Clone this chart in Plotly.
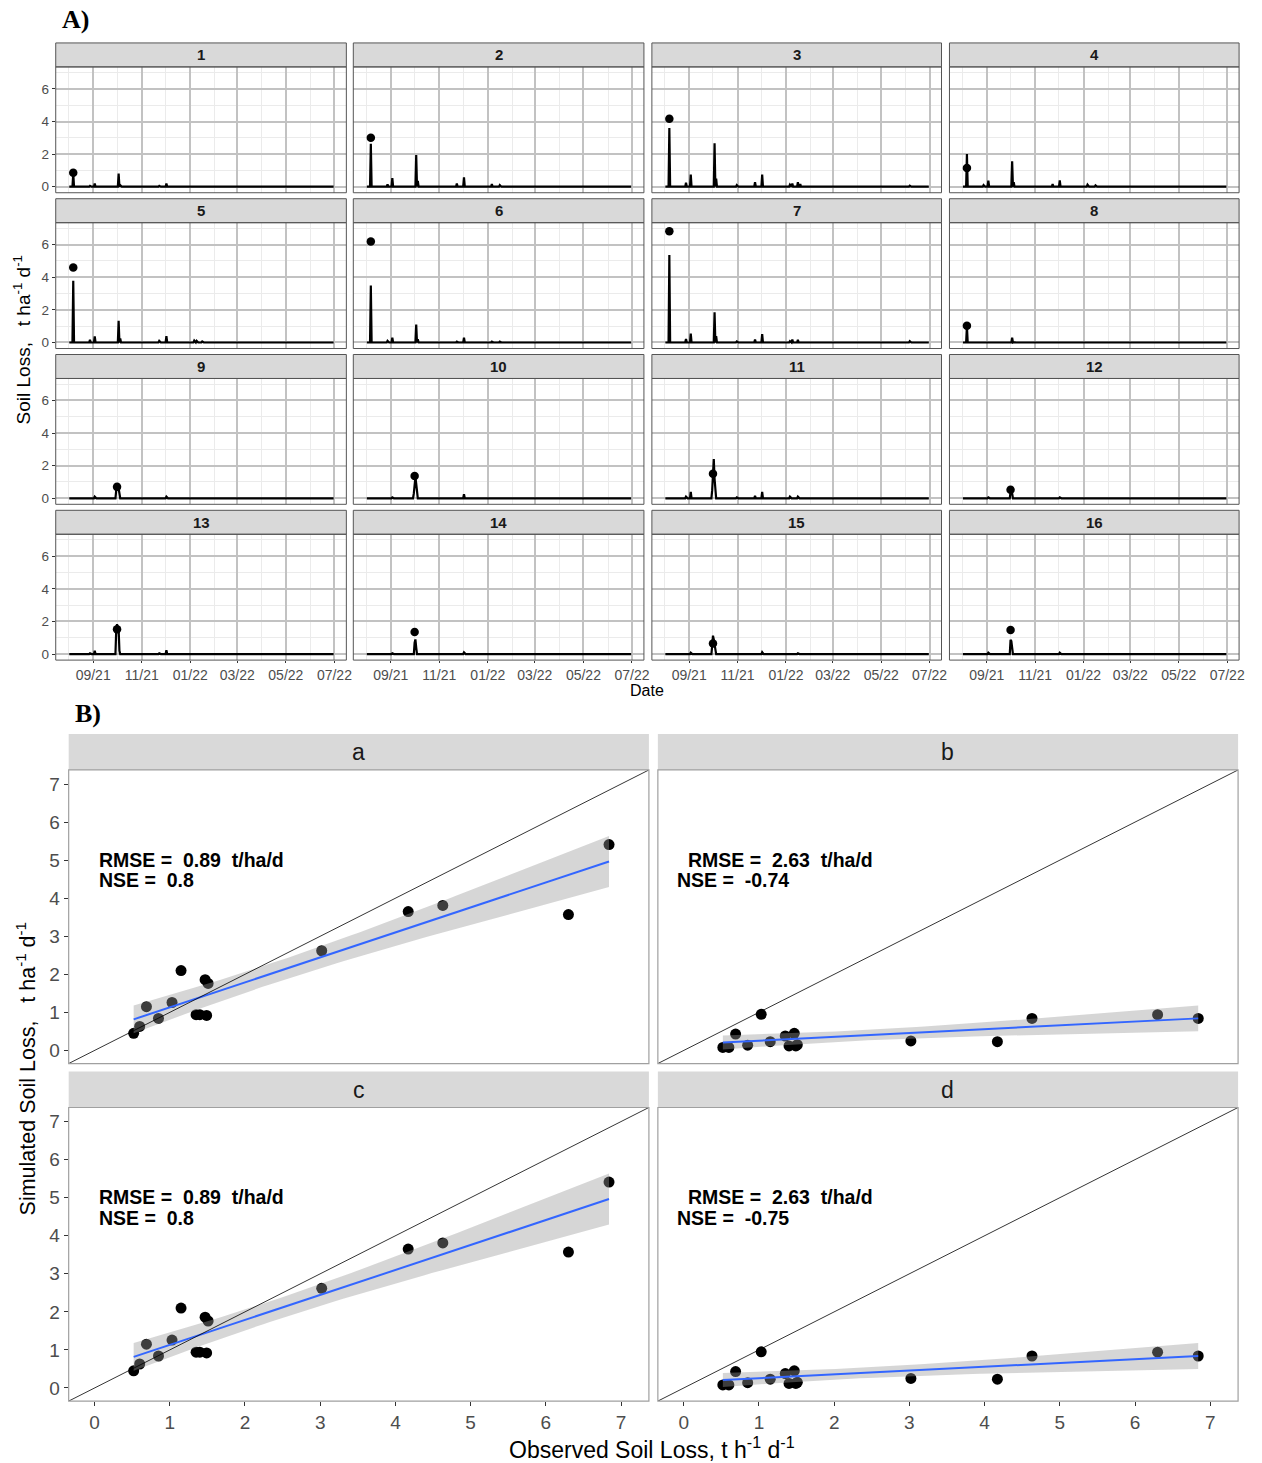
import numpy as np
import pandas as pd
import plotly.graph_objects as go

W, H = 1262, 1463

# ---------------- Part A data (daily simulated soil loss, t ha-1 d-1) ----------------
series_start = "2021-08-02"
series_end = "2022-06-30"
event_dates = ["2021-08-06", "2021-08-07", "2021-08-28", "2021-09-03", "2021-09-29",
               "2021-09-30", "2021-10-01", "2021-10-02", "2021-10-03", "2021-10-04",
               "2021-10-05", "2021-10-31", "2021-11-23", "2021-12-02", "2022-01-06",
               "2022-01-09", "2022-01-16", "2022-01-19", "2022-06-06"]
sim_p01 = [0, 0.80, 0.05, 0.20, 0, 0, 0, 0, 0.80, 0, 0.10, 0, 0.05, 0.20, 0, 0, 0.02, 0, 0]
sim_p02 = [0, 2.63, 0.15, 0.53, 0, 0, 0, 0, 1.95, 0, 0.35, 0.03, 0.20, 0.57, 0.16, 0, 0.10, 0, 0.02]
sim_p03 = [0, 3.60, 0.25, 0.74, 0, 0, 0, 0, 2.67, 0, 0.50, 0.10, 0.27, 0.74, 0.12, 0.20, 0.27, 0.16, 0.06]
sim_p04 = [0, 2.00, 0.10, 0.37, 0, 0, 0, 0, 1.56, 0, 0.27, 0, 0.16, 0.39, 0.12, 0, 0.08, 0, 0]
sim_p05 = [0, 3.78, 0.16, 0.37, 0, 0, 0, 0, 1.33, 0, 0.25, 0, 0.10, 0.39, 0.12, 0.10, 0.06, 0, 0]
sim_p06 = [0, 3.50, 0.10, 0.30, 0, 0, 0, 0, 1.10, 0, 0.20, 0, 0.05, 0.30, 0.05, 0, 0.05, 0, 0]
sim_p07 = [0, 5.37, 0.22, 0.55, 0, 0, 0, 0, 1.86, 0, 0.39, 0.06, 0.18, 0.51, 0.08, 0.18, 0.16, 0, 0.08]
sim_p08 = [0, 1.00, 0, 0.02, 0, 0, 0, 0, 0.30, 0, 0.02, 0, 0, 0.02, 0, 0, 0, 0, 0]
sim_p09 = [0, 0, 0, 0.10, 0, 0.50, 0.70, 0.90, 0.60, 0.20, 0, 0, 0, 0.10, 0, 0, 0.02, 0, 0]
sim_p10 = [0, 0, 0, 0.05, 0, 0.30, 1.20, 1.30, 0.90, 0.20, 0, 0, 0, 0.25, 0, 0, 0.03, 0, 0]
sim_p11 = [0, 0, 0.10, 0.40, 0, 0.50, 1.50, 2.40, 1.20, 0.30, 0, 0.05, 0.15, 0.40, 0.10, 0, 0.10, 0, 0]
sim_p12 = [0, 0, 0, 0.05, 0, 0, 0.40, 0.50, 0.30, 0, 0, 0, 0, 0.05, 0, 0, 0, 0, 0]
sim_p13 = [0, 0, 0.05, 0.20, 0, 1.50, 1.83, 1.60, 1.50, 0.20, 0, 0, 0.05, 0.24, 0.02, 0.03, 0, 0, 0]
sim_p14 = [0, 0, 0, 0.05, 0, 0, 0.70, 0.90, 0.40, 0, 0, 0, 0, 0.10, 0, 0, 0, 0, 0]
sim_p15 = [0, 0, 0, 0.08, 0, 0.50, 1.13, 0.90, 0.60, 0.15, 0, 0, 0.02, 0.12, 0, 0, 0.05, 0, 0]
sim_p16 = [0, 0, 0, 0.08, 0, 0, 0.87, 0.80, 0.40, 0, 0, 0, 0.03, 0.08, 0, 0, 0.03, 0, 0]
sim_panels_A = [sim_p01, sim_p02, sim_p03, sim_p04, sim_p05, sim_p06, sim_p07, sim_p08,
                sim_p09, sim_p10, sim_p11, sim_p12, sim_p13, sim_p14, sim_p15, sim_p16]
obs_dates_A = ["2021-08-07"] * 8 + ["2021-10-01"] * 8
obs_values_A = [0.85, 3.00, 4.17, 1.15, 4.60, 6.20, 6.82, 1.03,
                0.70, 1.37, 1.50, 0.52, 1.52, 1.35, 0.65, 1.47]
panel_labels_A = [str(i) for i in range(1, 17)]
x_range_A = ["2021-07-16", "2022-07-16"]

# ---------------- Part B data (observed vs simulated) ----------------
obs_B = [0.52, 0.60, 0.69, 0.85, 1.03, 1.15, 1.35, 1.40, 1.47, 1.49, 1.51, 3.02, 4.17, 4.63, 6.30, 6.84]
sim_B_a = [0.45, 0.63, 1.15, 0.84, 1.26, 2.10, 0.94, 0.94, 1.86, 0.92, 1.76, 2.62, 3.65, 3.81, 3.57, 5.41]
sim_B_b = [0.08, 0.08, 0.43, 0.14, 0.95, 0.23, 0.38, 0.12, 0.45, 0.12, 0.15, 0.25, 0.23, 0.84, 0.94, 0.84]
sim_B_c = [0.45, 0.63, 1.15, 0.84, 1.26, 2.10, 0.94, 0.94, 1.86, 0.92, 1.76, 2.62, 3.65, 3.81, 3.57, 5.41]
sim_B_d = [0.08, 0.08, 0.43, 0.14, 0.95, 0.23, 0.38, 0.12, 0.45, 0.12, 0.15, 0.25, 0.23, 0.84, 0.94, 0.84]
sim_panels_B = [sim_B_a, sim_B_b, sim_B_c, sim_B_d]
panel_labels_B = ["a", "b", "c", "d"]
rmse_B = ["0.89", "2.63", "0.89", "2.63"]
nse_B = ["0.8", "-0.74", "0.8", "-0.75"]
axis_ticks_B = [0, 1, 2, 3, 4, 5, 6, 7]

# ---------------- helpers ----------------
def fx(px):
    return px / W


def fy(py):
    return 1 - py / H


def ax_suffix(i):
    return "" if i == 1 else str(i)


SANS = "Liberation Sans, Arial, sans-serif"
SERIF = "Liberation Serif, Times New Roman, serif"

fig = go.Figure()
layout = dict(width=W, height=H, margin=dict(l=0, r=0, t=0, b=0),
              paper_bgcolor="white", plot_bgcolor="white", showlegend=False)
shapes = []
annotations = []

# ---------------- Part A ----------------
colsA = [(56, 348), (355, 647), (655, 946), (954, 1245)]
rowsA = [(67, 193), (223, 349), (379, 505), (535, 661)]
stripH_A = 24

days = pd.date_range(series_start, series_end, freq="D")
for i in range(16):
    idx = i + 1
    r, c = divmod(i, 4)
    x0, x1 = colsA[c]
    y0, y1 = rowsA[r]
    s = pd.Series(0.0, index=days)
    s.loc[pd.to_datetime(event_dates)] = sim_panels_A[i]
    xa, ya = "x" + ax_suffix(idx), "y" + ax_suffix(idx)
    fig.add_trace(go.Scatter(x=s.index, y=s.values, mode="lines",
                             line=dict(color="black", width=2.2),
                             xaxis=xa, yaxis=ya, hoverinfo="skip"))
    fig.add_trace(go.Scatter(x=[obs_dates_A[i]], y=[obs_values_A[i]], mode="markers",
                             marker=dict(color="black", size=8.5),
                             xaxis=xa, yaxis=ya, hoverinfo="skip"))
    layout["xaxis" + ax_suffix(idx)] = dict(
        domain=[fx(x0), fx(x1)], anchor=ya, type="date", range=x_range_A,
        tick0="2021-09-01", dtick="M2", tickformat="%m/%y",
        showgrid=True, gridcolor="#C2C2C2", gridwidth=1.7, zeroline=False, showline=False,
        minor=dict(dtick="M1", tick0="2021-08-01", showgrid=True, gridcolor="#EBEBEB", gridwidth=1),
        ticks="outside" if r == 3 else "", ticklen=2, tickcolor="#333333",
        showticklabels=(r == 3), tickfont=dict(family=SANS, size=14, color="#4D4D4D"))
    layout["yaxis" + ax_suffix(idx)] = dict(
        domain=[fy(y1), fy(y0)], anchor=xa, range=[-0.37, 7.35],
        tick0=0, dtick=2, showgrid=True, gridcolor="#C2C2C2", gridwidth=1.7,
        zeroline=False, showline=False,
        minor=dict(dtick=1, tick0=0, showgrid=True, gridcolor="#EBEBEB", gridwidth=1),
        ticks="outside" if c == 0 else "", ticklen=3, tickcolor="#333333",
        showticklabels=(c == 0), tickfont=dict(family=SANS, size=13.5, color="#4D4D4D"))
    # strip
    shapes.append(dict(type="rect", xref="paper", yref="paper",
                       x0=fx(x0), x1=fx(x1), y0=fy(y0), y1=fy(y0 - stripH_A),
                       fillcolor="#D9D9D9", line=dict(color="#555555", width=1), layer="above"))
    annotations.append(dict(xref="paper", yref="paper", x=fx((x0 + x1) / 2), y=fy(y0 - stripH_A / 2),
                            text="<b>" + panel_labels_A[i] + "</b>", showarrow=False,
                            font=dict(family=SANS, size=15, color="#1A1A1A"),
                            xanchor="center", yanchor="middle"))
    # border
    shapes.append(dict(type="rect", xref="paper", yref="paper",
                       x0=fx(x0), x1=fx(x1), y0=fy(y1), y1=fy(y0),
                       line=dict(color="#555555", width=1), layer="above"))

annotations.append(dict(xref="paper", yref="paper", x=fx(60), y=fy(20), text="<b>A)</b>",
                        showarrow=False, xanchor="left", yanchor="middle",
                        font=dict(family=SERIF, size=26, color="black")))
annotations.append(dict(xref="paper", yref="paper", x=fx(650), y=fy(691), text="Date",
                        showarrow=False, xanchor="center", yanchor="middle",
                        font=dict(family=SANS, size=16, color="black")))
annotations.append(dict(xref="paper", yref="paper", x=fx(22), y=fy(340),
                        text="Soil Loss,\u00a0\u00a0\u00a0t ha<sup>-1</sup> d<sup>-1</sup>",
                        textangle=-90, showarrow=False, xanchor="center", yanchor="middle",
                        font=dict(family=SANS, size=19, color="black")))

# ---------------- Part B ----------------
colsB = [(69, 652), (661, 1244)]
rowsB = [(771, 1065), (1109, 1403)]
stripH_B = 36
rngB = [-0.344, 7.37]
t_crit = 2.1448  # t(0.975, df=14)


def lm_band(x, y, n=60):
    x = np.asarray(x, float)
    y = np.asarray(y, float)
    b1, b0 = np.polyfit(x, y, 1)
    xs = np.linspace(x.min(), x.max(), n)
    yhat = b0 + b1 * xs
    resid = y - (b0 + b1 * x)
    dof = len(x) - 2
    sd = np.sqrt(np.sum(resid ** 2) / dof)
    sxx = np.sum((x - x.mean()) ** 2)
    se = sd * np.sqrt(1 / len(x) + (xs - x.mean()) ** 2 / sxx)
    return xs, yhat, yhat - t_crit * se, yhat + t_crit * se


for j in range(4):
    idx = 17 + j
    r, c = divmod(j, 2)
    x0, x1 = colsB[c]
    y0, y1 = rowsB[r]
    xa, ya = "x" + str(idx), "y" + str(idx)
    yv = sim_panels_B[j]
    fig.add_trace(go.Scatter(x=obs_B, y=yv, mode="markers",
                             marker=dict(color="black", size=11),
                             xaxis=xa, yaxis=ya, hoverinfo="skip"))
    xs, yhat, lo, hi = lm_band(obs_B, yv)
    fig.add_trace(go.Scatter(x=np.concatenate([xs, xs[::-1]]), y=np.concatenate([hi, lo[::-1]]),
                             mode="lines", fill="toself", fillcolor="rgba(153,153,153,0.4)",
                             line=dict(width=0), xaxis=xa, yaxis=ya, hoverinfo="skip"))
    fig.add_trace(go.Scatter(x=xs, y=yhat, mode="lines", line=dict(color="#3366FF", width=2),
                             xaxis=xa, yaxis=ya, hoverinfo="skip"))
    fig.add_trace(go.Scatter(x=[rngB[0], rngB[1]], y=[rngB[0], rngB[1]], mode="lines",
                             line=dict(color="black", width=0.8),
                             xaxis=xa, yaxis=ya, hoverinfo="skip"))
    layout["xaxis" + str(idx)] = dict(
        domain=[fx(x0), fx(x1)], anchor=ya, range=rngB, tickvals=axis_ticks_B,
        showgrid=False, zeroline=False, showline=False,
        ticks="outside" if r == 1 else "", ticklen=4, tickcolor="#333333",
        showticklabels=(r == 1), tickfont=dict(family=SANS, size=19, color="#4D4D4D"))
    layout["yaxis" + str(idx)] = dict(
        domain=[fy(y1), fy(y0)], anchor=xa, range=rngB, tickvals=axis_ticks_B,
        showgrid=False, zeroline=False, showline=False,
        ticks="outside" if c == 0 else "", ticklen=4, tickcolor="#333333",
        showticklabels=(c == 0), tickfont=dict(family=SANS, size=19, color="#4D4D4D"))
    shapes.append(dict(type="rect", xref="paper", yref="paper",
                       x0=fx(x0), x1=fx(x1), y0=fy(y0), y1=fy(y0 - stripH_B),
                       fillcolor="#D9D9D9", line=dict(width=0), layer="above"))
    annotations.append(dict(xref="paper", yref="paper", x=fx((x0 + x1) / 2), y=fy(y0 - stripH_B / 2),
                            text=panel_labels_B[j], showarrow=False,
                            font=dict(family=SANS, size=23, color="#1A1A1A"),
                            xanchor="center", yanchor="middle"))
    shapes.append(dict(type="rect", xref="paper", yref="paper",
                       x0=fx(x0), x1=fx(x1), y0=fy(y1), y1=fy(y0),
                       line=dict(color="#A0A0A0", width=1.2), layer="above"))
    ry = y0 + 90
    rx = 98 if c == 0 else 690
    nx = 98 if c == 0 else 679
    annotations.append(dict(xref="paper", yref="paper", x=fx(rx), y=fy(ry),
                            text="<b>RMSE =\u00a0\u00a0" + rmse_B[j] + "\u00a0\u00a0t/ha/d</b>",
                            showarrow=False, xanchor="left", yanchor="middle", borderpad=0,
                            font=dict(family=SANS, size=19.5, color="black")))
    annotations.append(dict(xref="paper", yref="paper", x=fx(nx), y=fy(ry + 20.5),
                            text="<b>NSE =\u00a0\u00a0" + nse_B[j] + "</b>",
                            showarrow=False, xanchor="left", yanchor="middle", borderpad=0,
                            font=dict(family=SANS, size=19.5, color="black")))

annotations.append(dict(xref="paper", yref="paper", x=fx(73), y=fy(714), text="<b>B)</b>",
                        showarrow=False, xanchor="left", yanchor="middle",
                        font=dict(family=SERIF, size=26, color="black")))
annotations.append(dict(xref="paper", yref="paper", x=fx(655), y=fy(1450),
                        text="Observed Soil Loss, t h<sup>-1</sup> d<sup>-1</sup>",
                        showarrow=False, xanchor="center", yanchor="middle",
                        font=dict(family=SANS, size=23, color="black")))
annotations.append(dict(xref="paper", yref="paper", x=fx(26), y=fy(1070),
                        text="Simulated Soil Loss,\u00a0\u00a0\u00a0t ha<sup>-1</sup> d<sup>-1</sup>",
                        textangle=-90, showarrow=False, xanchor="center", yanchor="middle",
                        font=dict(family=SANS, size=21.5, color="black")))

layout["shapes"] = shapes
layout["annotations"] = annotations
fig.update_layout(**layout)
fig.write_html("out.html")
